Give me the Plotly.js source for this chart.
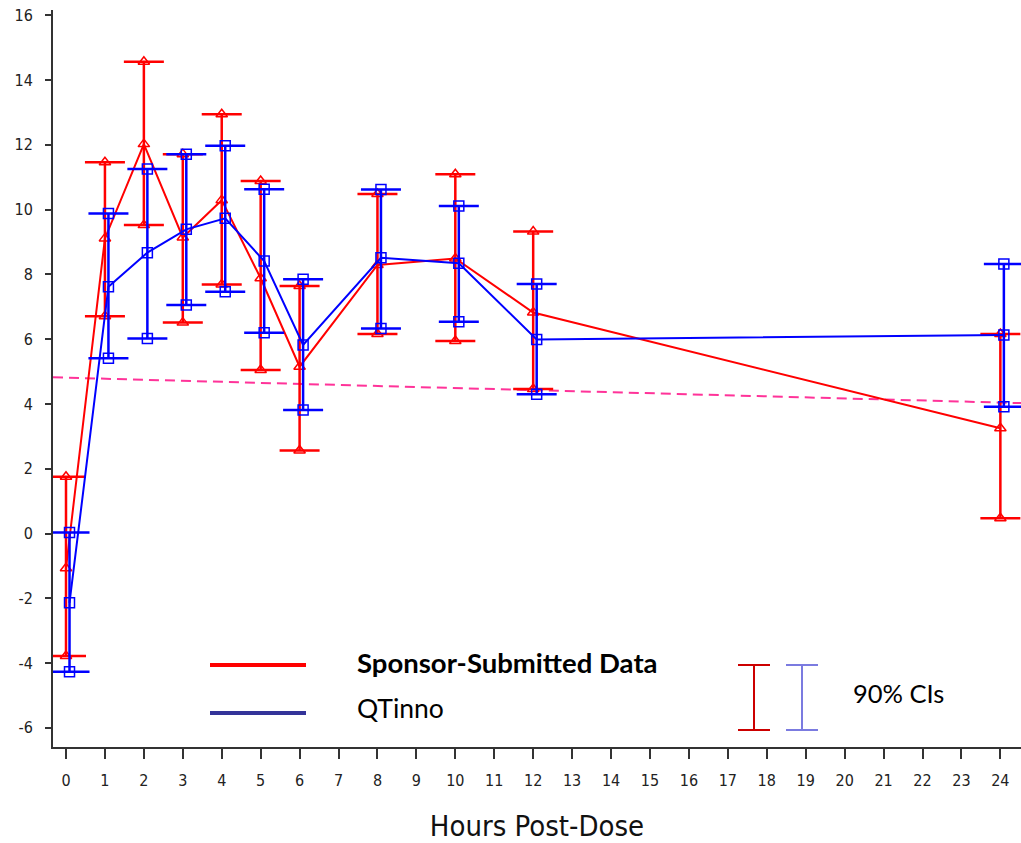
<!DOCTYPE html>
<html>
<head>
<meta charset="utf-8">
<script src="https://cdn.plot.ly/plotly-3.0.1.min.js"></script>
<style>html,body{margin:0;padding:0;background:#fff;}#chart{width:1021px;height:843px;}</style>
</head>
<body>
<div id="chart"></div>
<script>
// ---- data ----
const hours = [0, 1, 2, 3, 4, 5, 6, 8, 10, 12, 24];
const sponsorMean  = [-1.07, 9.11, 12.02, 9.14, 10.29, 7.88, 5.15, 8.29, 8.49, 6.82, 3.25];
const sponsorLower = [-3.78, 6.71, 9.52, 6.51, 7.69, 5.05, 2.56, 6.16, 5.94, 4.46, 0.47];
const sponsorUpper = [1.75, 11.46, 14.56, 11.71, 12.94, 10.88, 7.64, 10.48, 11.09, 9.32, 6.16];
const qtinnoMean  = [-2.14, 7.62, 8.67, 9.39, 9.73, 8.41, 5.82, 8.51, 8.34, 5.99, 6.13];
const qtinnoLower = [-4.27, 5.41, 6.02, 7.05, 7.46, 6.20, 3.81, 6.33, 6.54, 4.30, 3.91];
const qtinnoUpper = [0.03, 9.88, 11.25, 11.71, 11.97, 10.63, 7.85, 10.62, 10.11, 7.70, 8.32];
const trendIntercept = 4.81;
const trendSlope = -0.032;
const xTickLabels = ['0','1','2','3','4','5','6','7','8','9','10','11','12','13','14','15','16','17','18','19','20','21','22','23','24'];
const yTickValues = [-6, -4, -2, 0, 2, 4, 6, 8, 10, 12, 14, 16];
const seriesNames = ['Sponsor-Submitted Data', 'QTinno'];
const ciLabel = '90% CIs';
const xTitle = 'Hours Post-Dose';

// ---- styles / layout constants ----
const W = 1021, H = 843;
const M = {l: 53, r: 0, t: 10, b: 96};
const xRange = [-0.334, 24.53];
const yRange = [-6.59, 16.16];
const qtOffset = 0.09; // horizontal dodge of the QTinno series
const RED = '#ff0000', BLUE = '#0000ff';
const NARROW = '"Liberation Sans Narrow", "Arial Narrow", "DejaVu Sans Condensed", sans-serif';
const LEG = 'Lato, "Open Sans", sans-serif';

const qtX = hours.map(h => h + qtOffset);
const diff = (a, b) => a.map((v, i) => v - b[i]);

function meanTrace(x, mean, lower, upper, color, symbol, name) {
  return {
    x: x, y: mean, type: 'scatter', mode: 'lines+markers', name: name,
    line: {color: color, width: 2},
    marker: {symbol: symbol, size: 10, color: color, line: {color: color, width: 1.5}},
    error_y: {type: 'data', symmetric: false, array: diff(upper, mean), arrayminus: diff(mean, lower),
              color: color, thickness: 2.5, width: 20},
    hoverinfo: 'x+y'
  };
}
function capTrace(x, vals, color, symbol) {
  return {
    x: x, y: vals, type: 'scatter', mode: 'markers', showlegend: false,
    marker: {symbol: symbol, size: 10, color: color, line: {color: color, width: 1.5}},
    hoverinfo: 'skip'
  };
}

const data = [
  meanTrace(hours, sponsorMean, sponsorLower, sponsorUpper, RED, 'triangle-up-open', seriesNames[0]),
  capTrace(hours, sponsorUpper, RED, 'triangle-up-open'),
  capTrace(hours, sponsorLower, RED, 'triangle-up-open'),
  meanTrace(qtX, qtinnoMean, qtinnoLower, qtinnoUpper, BLUE, 'square-open', seriesNames[1]),
  capTrace(qtX, qtinnoUpper, BLUE, 'square-open'),
  capTrace(qtX, qtinnoLower, BLUE, 'square-open')
];

// pixel -> paper helpers for the hand-drawn key
const pw = W - M.l - M.r, ph = H - M.t - M.b;
const px = x => (x - M.l) / pw;
const py = y => (H - M.b - y) / ph;
function hline(x0, x1, y, color, width) {
  return {type: 'line', xref: 'paper', yref: 'paper', x0: px(x0), x1: px(x1), y0: py(y), y1: py(y),
          line: {color: color, width: width}};
}
function vline(x, y0, y1, color, width) {
  return {type: 'line', xref: 'paper', yref: 'paper', x0: px(x), x1: px(x), y0: py(y0), y1: py(y1),
          line: {color: color, width: width}};
}

const shapes = [
  {type: 'line', xref: 'x', yref: 'y', layer: 'below',
   x0: xRange[0], x1: xRange[1],
   y0: trendIntercept + trendSlope * xRange[0], y1: trendIntercept + trendSlope * xRange[1],
   line: {color: '#ff3399', width: 2, dash: '10px,6px'}},
  hline(210, 306, 665, RED, 4),
  hline(210, 306, 713, '#333399', 4),
  vline(754, 665, 730, '#cc0000', 2), hline(738, 770, 665, '#cc0000', 2), hline(738, 770, 730, '#cc0000', 2),
  vline(802, 665, 730, '#7b7be0', 2), hline(786, 818, 665, '#7b7be0', 2), hline(786, 818, 730, '#7b7be0', 2)
];

const annotations = [
  {xref: 'paper', yref: 'paper', x: px(355), y: py(662), xanchor: 'left', yanchor: 'middle', showarrow: false,
   text: '<b>' + seriesNames[0] + '</b>', font: {family: LEG, size: 27.5, color: '#000'}},
  {xref: 'paper', yref: 'paper', x: px(355), y: py(708), xanchor: 'left', yanchor: 'middle', showarrow: false,
   text: seriesNames[1], font: {family: LEG, size: 26.5, color: '#000'}},
  {xref: 'paper', yref: 'paper', x: px(851), y: py(693), xanchor: 'left', yanchor: 'middle', showarrow: false,
   text: ciLabel, font: {family: LEG, size: 25.5, color: '#000'}}
];

const layout = {
  width: W, height: H, margin: M,
  paper_bgcolor: '#fff', plot_bgcolor: '#fff',
  showlegend: false,
  xaxis: {
    range: xRange, tickmode: 'array', tickvals: xTickLabels.map(Number), ticktext: xTickLabels,
    showgrid: false, zeroline: false, showline: true, linecolor: '#333', linewidth: 2,
    ticks: 'outside', ticklen: 10, tickcolor: '#333', tickwidth: 1.5, ticklabelstandoff: 8,
    tickfont: {family: NARROW, size: 16, color: '#222'},
    title: {text: xTitle, font: {family: NARROW, size: 29, color: '#111'}, standoff: 30}
  },
  yaxis: {
    range: yRange, tickmode: 'array', tickvals: yTickValues, ticktext: yTickValues.map(String),
    showgrid: false, zeroline: false, showline: true, linecolor: '#333', linewidth: 2,
    ticks: 'outside', ticklen: 6, tickcolor: '#333', tickwidth: 1.5, ticklabelstandoff: 9,
    tickfont: {family: NARROW, size: 16, color: '#222'}
  },
  shapes: shapes,
  annotations: annotations
};

Plotly.newPlot('chart', data, layout, {displayModeBar: false, responsive: false});
</script>
</body>
</html>
